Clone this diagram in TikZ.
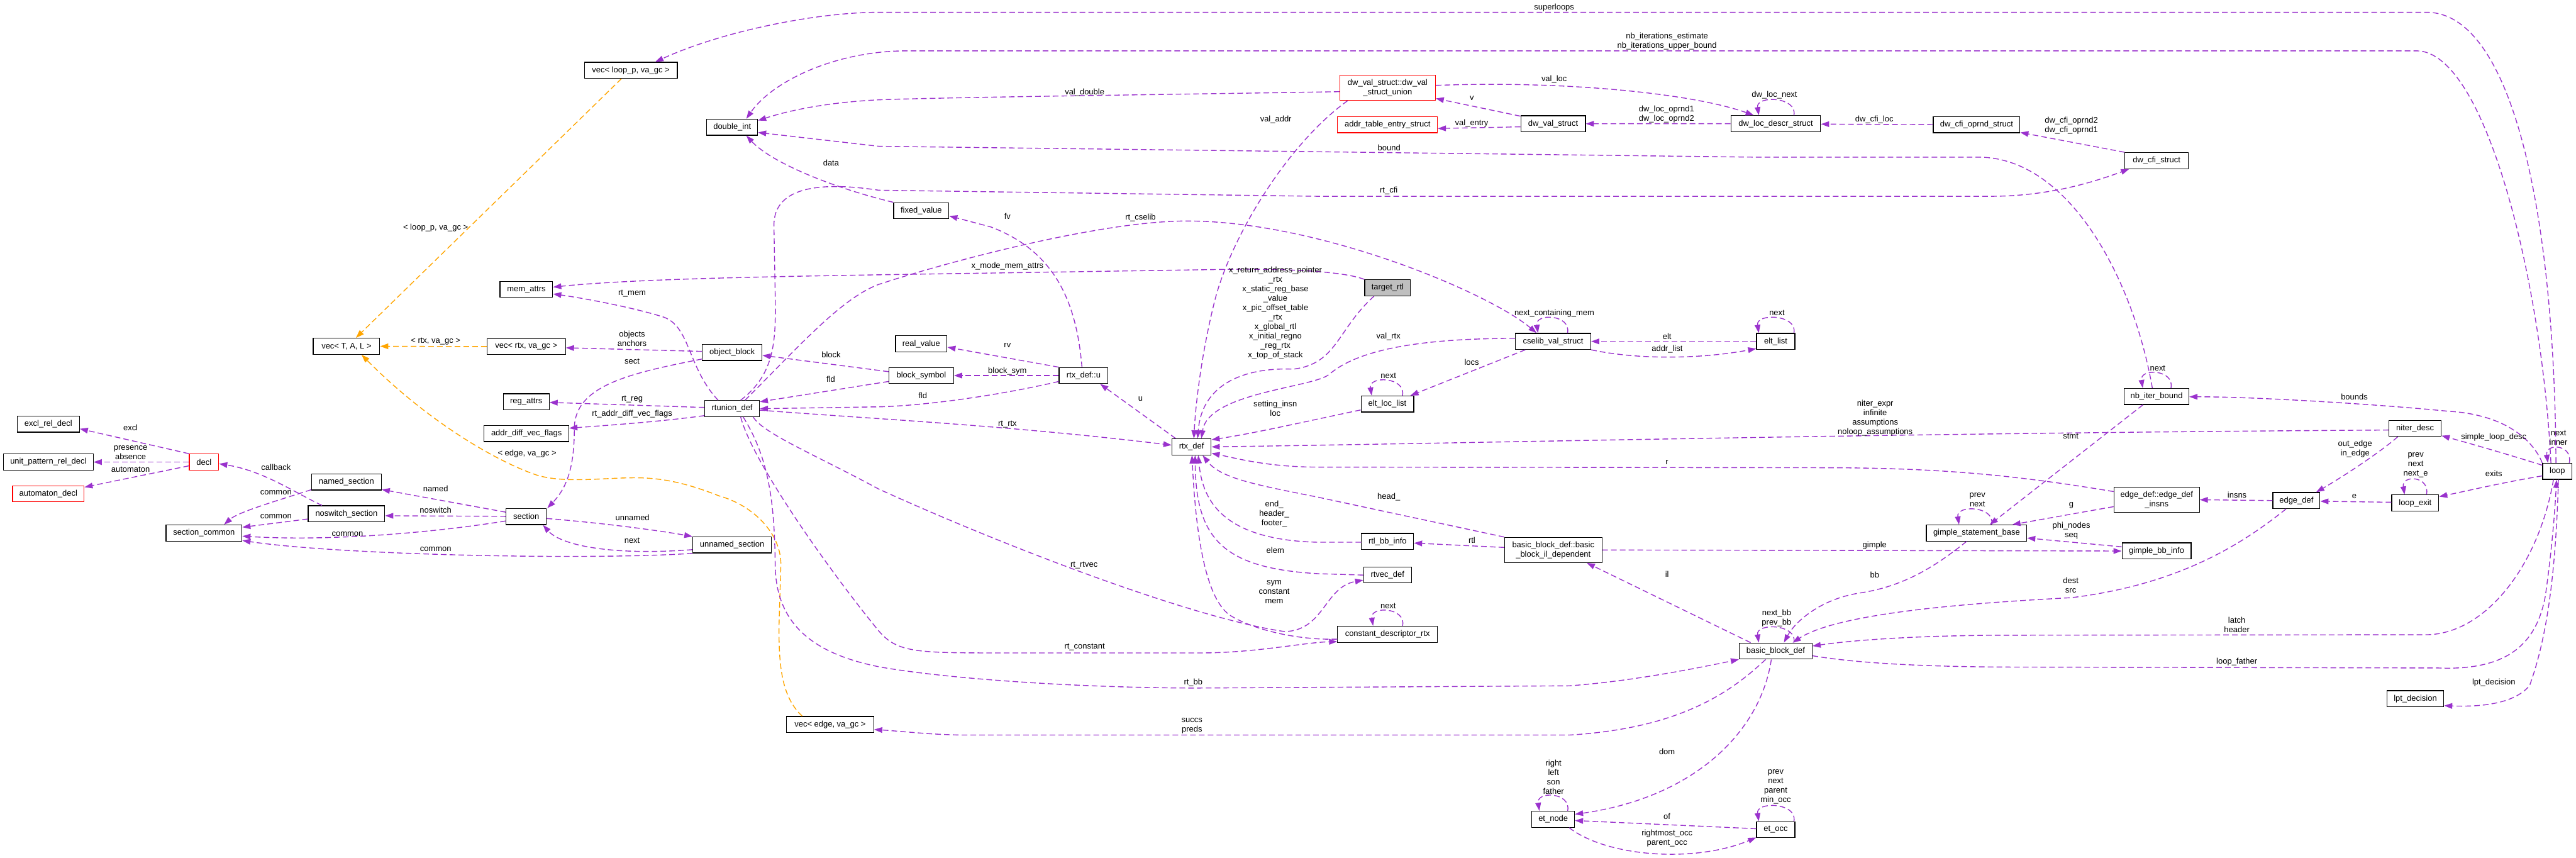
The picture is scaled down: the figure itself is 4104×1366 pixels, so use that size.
\documentclass[tikz,border=0pt]{standalone}
\usepackage{fontspec}
\setmainfont{Liberation Sans}
\usetikzlibrary{arrows.meta}
\definecolor{ep}{HTML}{9A32CD}
\definecolor{eo}{HTML}{FFA500}
\definecolor{tg}{HTML}{BFBFBF}
\newcommand{\dfont}{\fontsize{13}{15}\selectfont}
\newcommand\selfloop[3]{\draw[pe] ([xshift=#2pt]#1.north) .. controls ([xshift=#2pt+6pt,yshift=30pt]#1.north) and ([xshift=#3pt-5pt,yshift=32pt]#1.north) .. ([xshift=#3pt]#1.north);}
\begin{document}
\begin{tikzpicture}[x=1pt,y=-1pt,
 box/.style={draw=black, line width=1.2pt, inner sep=0pt, minimum height=25.6pt, font=\dfont, align=center, fill=white},
 rbox/.style={box, draw=red},
 lab/.style={font=\dfont, align=center, inner sep=0pt},
 pe/.style={draw=ep, line width=1.4pt, dash pattern=on 9pt off 5pt, -{Triangle[length=13pt,width=9pt]}},
 oe/.style={pe, draw=eo}]
\useasboundingbox (0,0) rectangle (4104,1366);
% ---------------- nodes
\node[box, minimum width=106pt] (vTAL) at (552,551.6) {vec< T, A, L >};
\node[box, minimum width=99pt] (excl) at (77,675.6) {excl\_rel\_decl};
\node[box, minimum width=143pt] (upat) at (77,736) {unit\_pattern\_rel\_decl};
\node[rbox, minimum width=114pt] (autd) at (77,786.5) {automaton\_decl};
\node[rbox, minimum width=47pt] (decl) at (325,736) {decl};
\node[box, minimum width=111pt] (named) at (552,767.8) {named\_section};
\node[box, minimum width=122pt] (nosw) at (552,818.4) {noswitch\_section};
\node[box, minimum width=121pt] (scom) at (325,849) {section\_common};
\node[box, minimum width=148pt] (vloop) at (1005,112) {vec< loop\_p, va\_gc >};
\node[box, minimum width=81pt] (dint) at (1166.5,202.6) {double\_int};
\node[box, minimum width=84pt] (mema) at (838.6,461) {mem\_attrs};
\node[box, minimum width=125pt] (vrtx) at (838.4,552) {vec< rtx, va\_gc >};
\node[box, minimum width=95pt] (oblk) at (1166.4,561.4) {object\_block};
\node[box, minimum width=73pt] (rega) at (838.4,640) {reg\_attrs};
\node[box, minimum width=87pt] (rtun) at (1166.4,650.8) {rtunion\_def};
\node[box, minimum width=135pt] (advf) at (838.8,690.5) {addr\_diff\_vec\_flags};
\node[box, minimum width=64pt] (sect) at (838.4,822.8) {section};
\node[box, minimum width=125pt] (unsec) at (1166.3,868) {unnamed\_section};
\node[box, minimum width=139pt] (vedge) at (1322.5,1154) {vec< edge, va\_gc >};
\node[box, minimum width=88pt] (fixv) at (1467.7,335.6) {fixed\_value};
\node[box, minimum width=82pt] (realv) at (1467.7,547.7) {real\_value};
\node[box, minimum width=103pt] (bsym) at (1467.8,598.2) {block\_symbol};
\node[box, minimum width=78pt] (rtxu) at (1726.3,598.2) {rtx\_def::u};
\node[box, minimum width=62.5pt] (rtx) at (1898.3,711.8) {rtx\_def};
\node[rbox, minimum width=152pt, minimum height=40pt] (dwvu) at (2210.7,139.8) {dw\_val\_struct::dw\_val\\\_struct\_union};
\node[rbox, minimum width=159pt] (ates) at (2210.5,198.6) {addr\_table\_entry\_struct};
\node[box, minimum width=103pt] (dwvs) at (2474.3,197.1) {dw\_val\_struct};
\node[box, minimum width=143pt] (dwld) at (2829,197) {dw\_loc\_descr\_struct};
\node[box, fill=tg, minimum width=73pt] (trtl) at (2210.7,458.4) {target\_rtl};
\node[box, minimum width=120pt] (csel) at (2474.3,543.8) {cselib\_val\_struct};
\node[box, minimum width=84pt] (ellist) at (2210.3,643.5) {elt\_loc\_list};
\node[box, minimum width=61pt] (eltl) at (2829,543.8) {elt\_list};
\node[box, minimum width=83pt] (rtlbb) at (2210.6,862.4) {rtl\_bb\_info};
\node[box, minimum width=76pt] (rtvec) at (2210.5,915.8) {rtvec\_def};
\node[box, minimum width=159pt] (cdr) at (2210.5,1010.3) {constant\_descriptor\_rtx};
\node[box, minimum width=155pt, minimum height=40pt] (bbil) at (2474.6,876) {basic\_block\_def::basic\\\_block\_il\_dependent};
\node[box, minimum width=116pt] (bbd) at (2829,1037) {basic\_block\_def};
\node[box, minimum width=68pt] (etn) at (2474.5,1305) {et\_node};
\node[box, minimum width=61pt] (eto) at (2829,1321.5) {et\_occ};
\node[box, minimum width=138pt] (cfio) at (3149,198.6) {dw\_cfi\_oprnd\_struct};
\node[box, minimum width=101pt] (cfis) at (3435.8,255.9) {dw\_cfi\_struct};
\node[box, minimum width=103pt] (nbib) at (3435.7,631.5) {nb\_iter\_bound};
\node[box, minimum width=160pt] (gsb) at (3149,849) {gimple\_statement\_base};
\node[box, minimum width=136pt, minimum height=40pt] (edi) at (3435.9,795.8) {edge\_def::edge\_def\\\_insns};
\node[box, minimum width=110pt] (gbb) at (3435.7,877.5) {gimple\_bb\_info};
\node[box, minimum width=83pt] (nitd) at (3847.6,682.3) {niter\_desc};
\node[box, minimum width=75pt] (edef) at (3658.5,797.3) {edge\_def};
\node[box, minimum width=75pt] (lexit) at (3847.8,801.2) {loop\_exit};
\node[box, minimum width=47pt] (loop) at (4074.3,750.7) {loop};
\node[box, minimum width=90.5pt] (lpt) at (3848,1113) {lpt\_decision};
% ---------------- edges, left part
\draw[pe] (decl.north west) -- (excl.east |- 0,683);
\draw[pe] (decl.west) -- (upat.east);
\draw[pe] (decl.west |- 0,742) -- (autd.east |- 0,776);
\draw[pe] (nosw.north -| 513,0) .. controls (470,785) and (420,750) .. (decl.east |- 0,738.7);
\draw[pe] (named.west |- 0,780) .. controls (450,795) and (380,815) .. (scom.north -| 357,0);
\draw[pe] (nosw.west |- 0,826.7) -- (scom.east |- 0,839.8);
\draw[pe] (sect.west |- 0,829.8) .. controls (680,850) and (520,862) .. (scom.east |- 0,854);
\draw[pe] (unsec.south west) .. controls (950,892) and (550,885) .. (scom.east |- 0,861);
\draw[pe] (sect.west |- 0,815.8) -- (named.east |- 0,779.7);
\draw[pe] (sect.west |- 0,822.4) -- (nosw.east |- 0,821.5);
\draw[pe] (sect.east |- 0,825.9) .. controls (960,833) and (1050,845) .. (unsec.north west);
\draw[pe] (unsec.west |- 0,875.5) .. controls (980,885) and (895,870) .. (sect.south -| 865,0);
\draw[pe] (oblk.west |- 0,571.9) .. controls (1000,595) and (915,615) .. (915,683) .. controls (915,740) and (905,775) .. (sect.north -| 872,0);
\draw[pe] (rtun.west |- 0,662) .. controls (1050,672) and (960,678) .. (advf.east |- 0,682);
\draw[pe] (rtun.west |- 0,649) -- (rega.east |- 0,641);
\draw[pe] (rtun.north -| 1144,0) .. controls (1095,585) and (1100,520) .. (1057,505) .. controls (1010,490) and (930,475) .. (mema.east |- 0,468.2);
\draw[pe] (trtl.north west) .. controls (2140,432) and (2050,428) .. (1958,429) -- (1400,437.7) .. controls (1200,441) and (1000,445) .. (mema.east |- 0,457.3);
\draw[pe] (oblk.west |- 0,559.7) -- (vrtx.east |- 0,554);
\draw[oe] (vrtx.west) -- (vTAL.east);
\draw[oe] (vloop.south -| 990,0) -- (vTAL.north -| 567,0);
\draw[oe] (vedge.north -| 1278,0) .. controls (1245,1110) and (1241,1060) .. (1241,1000) -- (1244,900) .. controls (1245,850) and (1200,805) .. (1146,790) .. controls (1100,772) and (1060,761) .. (1012,761) .. controls (960,761) and (900,770) .. (856,757) .. controls (790,735) and (680,670) .. (vTAL.south -| 576,0);
% ---------------- top long edges
\draw[pe] (loop.north -| 4072,0) .. controls (4070,330) and (4000,19.6) .. (3866,19.6) -- (1400,19.6) .. controls (1300,19.6) and (1150,50) .. (vloop.north -| 1044,0);
\draw[pe] (loop.north -| 4064,0) .. controls (4050,450) and (3960,81) .. (3850,81) -- (1445,81) .. controls (1330,81) and (1230,130) .. (dint.north -| 1189,0);
\draw[pe] (dwvu.west |- 0,146) .. controls (1900,150) and (1500,155) .. (1400,159) .. controls (1320,163) and (1260,175) .. (dint.east |- 0,192);
\draw[pe] (nbib.north -| 3429,0) .. controls (3400,450) and (3300,255) .. (3157,250.4) -- (2800,250.4) -- (1400,233) -- (dint.east |- 0,211);
\draw[pe] (fixv.north west) .. controls (1330,300) and (1230,260) .. (dint.south -| 1189,0);
\draw[pe] (rtun.north -| 1180,0) .. controls (1236,595) and (1236,540) .. (1235,470) -- (1233,360) .. controls (1232,300) and (1300,288) .. (1400,303) -- (2100,312.7) -- (3170,312.7) .. controls (3260,312.7) and (3330,292) .. (cfis.south -| 3392,0);
\draw[pe] (rtun.north -| 1187,0) .. controls (1270,555) and (1340,475) .. (1400,453) .. controls (1500,420) and (1750,352) .. (1891,352) .. controls (2100,352) and (2370,465) .. (csel.north -| 2448,0);
% ---------------- rtx_def area
\draw[pe] (rtxu.north -| 1723.7,0) .. controls (1715,480) and (1680,400) .. (1578.6,361.5) -- (fixv.east |- 0,344);
\draw[pe] (rtxu.north west) -- (realv.east |- 0,553);
\draw[pe] (rtxu.west) -- (bsym.east);
\draw[pe] (bsym.west |- 0,592) -- (oblk.east |- 0,566);
\draw[pe] (bsym.west |- 0,607.6) -- (rtun.east |- 0,640);
\draw[pe] (rtxu.west |- 0,607.6) .. controls (1600,628) and (1480,646) .. (1400,648) -- (rtun.east |- 0,651);
\draw[pe] (rtun.east |- 0,653.3) .. controls (1400,668) and (1600,677) .. (rtx.west |- 0,709);
\draw[pe] (rtx.north -| 1873,0) -- (rtxu.south -| 1752.7,0);
\draw[pe] (trtl.south -| 2189,0) .. controls (2130,525) and (2130,580) .. (2060,588) .. controls (1985,585) and (1915,610) .. (rtx.north -| 1908,0);
\draw[pe] (csel.west |- 0,539) .. controls (2250,539) and (2160,560) .. (2118,596) .. controls (2093,617.6) and (1925,625) .. (rtx.north -| 1914,0);
\draw[pe] (dwvu.south -| 2147,0) .. controls (2050,230) and (1960,380) .. (1935,480) .. controls (1915,560) and (1905,640) .. (rtx.north -| 1902,0);
\draw[pe] (ellist.west |- 0,653) .. controls (2100,667) and (2000,690) .. (rtx.east |- 0,700.4);
\draw[pe] (nitd.west |- 0,685) .. controls (3000,690) and (2400,705) .. (rtx.east |- 0,711.8);
\draw[pe] (edi.west |- 0,783) .. controls (3200,755) and (3080,745) .. (2900,745) -- (2100,744) .. controls (2020,744) and (1970,730) .. (rtx.east |- 0,722);
\draw[pe] (bbil.north west) -- (2100,792) .. controls (2000,772) and (1945,762) .. (rtx.south -| 1916,0);
\draw[pe] (rtlbb.west |- 0,863.7) -- (2100,863.7) .. controls (1940,860) and (1915,790) .. (rtx.south -| 1909,0);
\draw[pe] (rtvec.west |- 0,916) -- (2100,913.8) .. controls (1950,905) and (1905,860) .. (rtx.south -| 1904,0);
\draw[pe] (cdr.west |- 0,1018) .. controls (2060,1020) and (1990,1000) .. (1958,979) .. controls (1920,950) and (1905,850) .. (rtx.south -| 1899,0);
\draw[pe] (rtun.south -| 1200,0) .. controls (1215,690) and (1300,725) .. (1400,779) .. controls (1600,870) and (1900,985) .. (2047,1006) .. controls (2110,1004) and (2110,935) .. (rtvec.west |- 0,924);
\draw[pe] (rtun.south -| 1180,0) .. controls (1200,740) and (1330,920) .. (1400,1005) .. controls (1430,1040) and (1460,1040) .. (1600,1040) -- (1913,1040) .. controls (2000,1040) and (2080,1023) .. (cdr.west |- 0,1022);
\draw[pe] (rtun.south -| 1184,0) .. controls (1225,730) and (1234,800) .. (1235,900) .. controls (1236,990) and (1290,1040) .. (1400,1062) .. controls (1500,1080) and (1700,1095) .. (1900,1096) -- (2500,1092.4) .. controls (2600,1085) and (2700,1065) .. (bbd.south west);
% ---------------- middle
\draw[pe] (bbil.west |- 0,872) -- (rtlbb.east |- 0,865);
\draw[pe] (csel.south -| 2430,0) -- (ellist.north -| 2247,0);
\draw[pe] (eltl.west) -- (csel.east);
\draw[pe] (csel.south east) .. controls (2620,575) and (2720,570) .. (eltl.west |- 0,555.3);
\draw[pe] (dwvs.west |- 0,185) -- (dwvu.east |- 0,156.8);
\draw[pe] (dwvs.west |- 0,202) -- (ates.east |- 0,204.7);
\draw[pe] (dwld.west) -- (dwvs.east);
\draw[pe] (dwvu.east |- 0,136) .. controls (2500,128) and (2700,150) .. (dwld.north -| 2794,0);
\draw[pe] (cfio.west) -- (dwld.east |- 0,197.7);
\draw[pe] (cfis.north west) -- (cfio.east |- 0,211);
% ---------------- right part
\draw[pe] (loop.north west) .. controls (4035,700) and (3990,660) .. (3900,655) .. controls (3800,645) and (3600,632) .. (nbib.east |- 0,632);
\draw[pe] (loop.west |- 0,741) .. controls (3990,722) and (3930,705) .. (nitd.east |- 0,694);
\draw[pe] (loop.west |- 0,758) .. controls (3990,768) and (3930,782) .. (lexit.east |- 0,791);
\draw[pe] (lexit.west |- 0,800) -- (edef.east |- 0,798.4);
\draw[pe] (nitd.south -| 3820,0) .. controls (3795,718) and (3735,758) .. (edef.north -| 3690,0);
\draw[pe] (edef.west) -- (edi.east |- 0,796);
\draw[pe] (edef.south -| 3642,0) .. controls (3580,860) and (3480,930) .. (3300,952) .. controls (3150,960) and (2930,975) .. (bbd.north -| 2856,0);
\draw[pe] (gsb.south -| 3133,0) .. controls (3080,905) and (3030,935) .. (2960,945) .. controls (2900,955) and (2860,990) .. (bbd.north -| 2842,0);
\draw[pe] (edi.west |- 0,807) -- (gsb.north -| 3206,0);
\draw[pe] (gbb.west |- 0,871) -- (gsb.east |- 0,857);
\draw[pe] (bbil.east |- 0,876) -- (gbb.west |- 0,877.7);
\draw[pe] (nbib.south -| 3414,0) -- (gsb.north -| 3170,0);
\draw[pe] (bbd.north -| 2789,0) -- (bbil.south -| 2528,0);
\draw[pe] (loop.south -| 4068,0) .. controls (4045,900) and (3960,1010) .. (3866,1011) -- (3200,1011.8) .. controls (3050,1012) and (2950,1020) .. (bbd.east |- 0,1029);
\draw[pe] (bbd.east |- 0,1044.5) .. controls (2950,1055) and (3050,1062) .. (3200,1062.5) -- (3885,1064) .. controls (3990,1068) and (4040,1030) .. (4055,950) .. controls (4065,880) and (4070,820) .. (loop.south -| 4073,0);
\draw[pe] (loop.south -| 4076,0) .. controls (4072,900) and (4060,1010) .. (4030,1092) .. controls (4005,1122) and (3950,1126) .. (lpt.east |- 0,1124);
\draw[pe] (bbd.south -| 2813,0) .. controls (2760,1100) and (2680,1160) .. (2500,1170.8) -- (1534,1170.8) .. controls (1480,1170) and (1440,1165) .. (vedge.east |- 0,1162);
\draw[pe] (bbd.south -| 2822,0) .. controls (2805,1165) and (2700,1270) .. (etn.east |- 0,1297);
\draw[pe] (eto.west |- 0,1320) -- (etn.east |- 0,1307);
\draw[pe] (etn.south -| 2500,0) .. controls (2560,1365) and (2700,1375) .. (eto.west |- 0,1334);
% ---------------- self loops
\selfloop{cdr}{24}{-23}
\selfloop{ellist}{24}{-25}
\selfloop{csel}{23}{-24}
\selfloop{eltl}{29}{-27}
\selfloop{dwld}{29}{-27}
\selfloop{nbib}{23}{-22}
\selfloop{gsb}{24}{-28}
\selfloop{bbd}{29}{-27}
\selfloop{etn}{23}{-22}
\selfloop{eto}{29}{-27}
\selfloop{lexit}{18}{-17}
\selfloop{loop}{19}{-15}
% ---------------- labels
\node[lab] (lb1) at (208,681) {excl};
\node[lab] (lb2) at (208,720.5) {presence\\absence};
\node[lab] (lb3) at (208,747.5) {automaton};
\node[lab] (lb4) at (439.7,744.4) {callback};
\node[lab] (lb5) at (439.7,784.5) {common};
\node[lab] (lb6) at (439.7,822.8) {common};
\node[lab] (lb7) at (553.6,850.7) {common};
\node[lab] (lb8) at (694,874.6) {common};
\node[lab] (lb9) at (694,778.8) {named};
\node[lab] (lb10) at (694,812.8) {noswitch};
\node[lab] (lb11) at (1007.6,824.5) {unnamed};
\node[lab] (lb12) at (1007,860.7) {next};
\node[lab] (lb13) at (1007,575) {sect};
\node[lab] (lb14) at (1007,659.4) {rt\_addr\_diff\_vec\_flags};
\node[lab] (lb15) at (1007,636) {rt\_reg};
\node[lab] (lb16) at (1007,467.8) {rt\_mem};
\node[lab] (lb17) at (1605,423.8) {x\_mode\_mem\_attrs};
\node[lab] (lb18) at (1007,539.5) {objects\\anchors};
\node[lab] (lb19) at (694,543.6) {< rtx, va\_gc >};
\node[lab] (lb20) at (694,362.8) {< loop\_p, va\_gc >};
\node[lab] (lb21) at (839.7,723) {< edge, va\_gc >};
\node[lab] (lb22) at (2476,11.8) {superloops};
\node[lab] (lb23) at (2655.8,65.7) {nb\_iterations\_estimate\\nb\_iterations\_upper\_bound};
\node[lab] (lb24) at (1728,147) {val\_double};
\node[lab] (lb25) at (2213,235) {bound};
\node[lab] (lb26) at (1324,259.6) {data};
\node[lab] (lb27) at (2212.5,304) {rt\_cfi};
\node[lab] (lb28) at (1817,347) {rt\_cselib};
\node[lab] (lb29) at (1605,344) {fv};
\node[lab] (lb30) at (1605,549.6) {rv};
\node[lab] (lb31) at (1605,591) {block\_sym};
\node[lab] (lb32) at (1324,564.5) {block};
\node[lab] (lb33) at (1323.6,604) {fld};
\node[lab] (lb34) at (1470,630) {fld};
\node[lab] (lb35) at (1605,675.5) {rt\_rtx};
\node[lab] (lb36) at (1817,635) {u};
\node[lab] (lb37) at (2032,498.8) {x\_return\_address\_pointer\\\_rtx\\x\_static\_reg\_base\\\_value\\x\_pic\_offset\_table\\\_rtx\\x\_global\_rtl\\x\_initial\_regno\\\_reg\_rtx\\x\_top\_of\_stack};
\node[lab] (lb38) at (2212,535.7) {val\_rtx};
\node[lab] (lb39) at (2032.6,190) {val\_addr};
\node[lab] (lb40) at (2031.7,651) {setting\_insn\\loc};
\node[lab] (lb41) at (2987.5,666) {niter\_expr\\infinite\\assumptions\\noloop\_assumptions};
\node[lab] (lb42) at (2655.8,736.6) {r};
\node[lab] (lb43) at (2212.5,792) {head\_};
\node[lab] (lb44) at (2030,818.3) {end\_\\header\_\\footer\_};
\node[lab] (lb45) at (2031.7,876.8) {elem};
\node[lab] (lb46) at (2030,942.6) {sym\\constant\\mem};
\node[lab] (lb47) at (1727,900.8) {rt\_rtvec};
\node[lab] (lb48) at (1728,1031) {rt\_constant};
\node[lab] (lb49) at (1901,1087) {rt\_bb};
\node[lab] (lb50) at (2345,860.7) {rtl};
\node[lab] (lb51) at (2344.6,577) {locs};
\node[lab] (lb52) at (2655.8,535.7) {elt};
\node[lab] (lb53) at (2656,556.6) {addr\_list};
\node[lab] (lb54) at (2345,156) {v};
\node[lab] (lb55) at (2344.6,196.9) {val\_entry};
\node[lab] (lb56) at (2655,181.6) {dw\_loc\_oprnd1\\dw\_loc\_oprnd2};
\node[lab] (lb57) at (2476,126.7) {val\_loc};
\node[lab] (lb58) at (2986,190) {dw\_cfi\_loc};
\node[lab] (lb59) at (3300,200) {dw\_cfi\_oprnd2\\dw\_cfi\_oprnd1};
\node[lab] (lb60) at (3437.5,586.7) {next};
\node[lab] (lb61) at (3750.8,632.4) {bounds};
\node[lab] (lb62) at (3973,696.5) {simple\_loop\_desc};
\node[lab] (lb63) at (4076,697.6) {next\\inner};
\node[lab] (lb64) at (3973,754.4) {exits};
\node[lab] (lb65) at (3848.6,741) {prev\\next\\next\_e};
\node[lab] (lb66) at (3750.8,790.6) {e};
\node[lab] (lb67) at (3752,715.2) {out\_edge\\in\_edge};
\node[lab] (lb68) at (3564,788.4) {insns};
\node[lab] (lb69) at (3299,932.4) {dest\\src};
\node[lab] (lb70) at (2986.6,916) {bb};
\node[lab] (lb71) at (3150.4,796.2) {prev\\next};
\node[lab] (lb72) at (3300,804.5) {g};
\node[lab] (lb73) at (3300,845.7) {phi\_nodes\\seq};
\node[lab] (lb74) at (2986.6,868.5) {gimple};
\node[lab] (lb75) at (3299,694.8) {stmt};
\node[lab] (lb76) at (2655.8,915) {il};
\node[lab] (lb77) at (2830.4,984.4) {next\_bb\\prev\_bb};
\node[lab] (lb78) at (3563.6,995.6) {latch\\header};
\node[lab] (lb79) at (3563.6,1054) {loop\_father};
\node[lab] (lb80) at (3973,1087) {lpt\_decision};
\node[lab] (lb81) at (1899,1156.4) {succs\\preds};
\node[lab] (lb82) at (2655.8,1197) {dom};
\node[lab] (lb83) at (2655.8,1300.6) {of};
\node[lab] (lb84) at (2655.8,1335.2) {rightmost\_occ\\parent\_occ};
\node[lab] (lb85) at (2475,1237.5) {right\\left\\son\\father};
\node[lab] (lb86) at (2829,1253.6) {prev\\next\\parent\\min\_occ};
\node[lab] (lb87) at (2211.6,965) {next};
\node[lab] (lb88) at (2212,598.9) {next};
\node[lab] (lb89) at (2476.3,498.7) {next\_containing\_mem};
\node[lab] (lb90) at (2831,498.7) {next};
\node[lab] (lb91) at (2827,151.6) {dw\_loc\_next};
\end{tikzpicture}
\end{document}
